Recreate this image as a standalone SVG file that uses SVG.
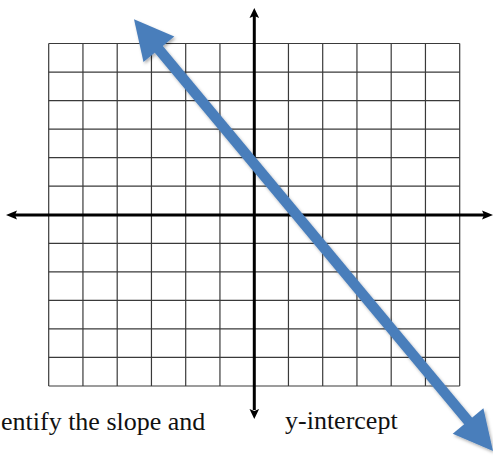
<svg xmlns="http://www.w3.org/2000/svg" width="493" height="458" viewBox="0 0 493 458">
  <style>
    .grid line { stroke: #3a3a3a; stroke-width: 1.2; }
    .axis { stroke: #000; stroke-width: 3; fill: none; }
    .head { fill: #000; }
    .blue { fill: #4a7ebb; }
    .label { font-family: "Liberation Serif", "Times New Roman", serif; font-size: 26px; fill: #111; }
  </style>
  <defs>
    <filter id="sh" x="-10%" y="-10%" width="120%" height="120%">
      <feDropShadow dx="1.5" dy="2" stdDeviation="1.5" flood-color="#000" flood-opacity="0.3"/>
    </filter>
  </defs>
  <rect width="493" height="458" fill="#fff"/>
  <g id="grid" class="grid">
    <line x1="48.7" y1="43.5" x2="48.7" y2="386"/>
    <line x1="82.95" y1="43.5" x2="82.95" y2="386"/>
    <line x1="117.2" y1="43.5" x2="117.2" y2="386"/>
    <line x1="151.45" y1="43.5" x2="151.45" y2="386"/>
    <line x1="185.7" y1="43.5" x2="185.7" y2="386"/>
    <line x1="219.95" y1="43.5" x2="219.95" y2="386"/>
    <line x1="254.2" y1="43.5" x2="254.2" y2="386"/>
    <line x1="288.45" y1="43.5" x2="288.45" y2="386"/>
    <line x1="322.7" y1="43.5" x2="322.7" y2="386"/>
    <line x1="356.95" y1="43.5" x2="356.95" y2="386"/>
    <line x1="391.2" y1="43.5" x2="391.2" y2="386"/>
    <line x1="425.45" y1="43.5" x2="425.45" y2="386"/>
    <line x1="459.7" y1="43.5" x2="459.7" y2="386"/>
    <line x1="48.7" y1="43.5" x2="459.7" y2="43.5"/>
    <line x1="48.7" y1="72.04" x2="459.7" y2="72.04"/>
    <line x1="48.7" y1="100.58" x2="459.7" y2="100.58"/>
    <line x1="48.7" y1="129.13" x2="459.7" y2="129.13"/>
    <line x1="48.7" y1="157.67" x2="459.7" y2="157.67"/>
    <line x1="48.7" y1="186.21" x2="459.7" y2="186.21"/>
    <line x1="48.7" y1="214.75" x2="459.7" y2="214.75"/>
    <line x1="48.7" y1="243.29" x2="459.7" y2="243.29"/>
    <line x1="48.7" y1="271.83" x2="459.7" y2="271.83"/>
    <line x1="48.7" y1="300.38" x2="459.7" y2="300.38"/>
    <line x1="48.7" y1="328.92" x2="459.7" y2="328.92"/>
    <line x1="48.7" y1="357.46" x2="459.7" y2="357.46"/>
    <line x1="48.7" y1="386" x2="459.7" y2="386"/>
  </g>
  <g id="axes">
    <line class="axis" x1="15" y1="215" x2="485" y2="215"/>
    <polygon class="head" points="6,215 17,210.5 15,215 17,219.5"/>
    <polygon class="head" points="493,215 482,210.5 484,215 482,219.5"/>
    <line class="axis" x1="254.3" y1="16" x2="254.3" y2="410"/>
    <polygon class="head" points="254.3,8 249.5,18 254.3,16 259.1,18"/>
    <polygon class="head" points="254.3,419 249.5,409 254.3,411 259.1,409"/>
  </g>
  <g id="line" filter="url(#sh)">
    <line x1="158" y1="48.3" x2="469" y2="422" stroke="#4a7ebb" stroke-width="10.5"/>
    <polygon class="blue" points="134,19.3 174.3,36.5 143.5,62.1"/>
    <polygon class="blue" points="493,451 483.4,408.2 452.7,433.8"/>
  </g>
  <g id="labels">
    <text class="label" x="1" y="430">entify the slope and</text>
    <text class="label" x="285" y="429">y-intercept</text>
  </g>
</svg>
